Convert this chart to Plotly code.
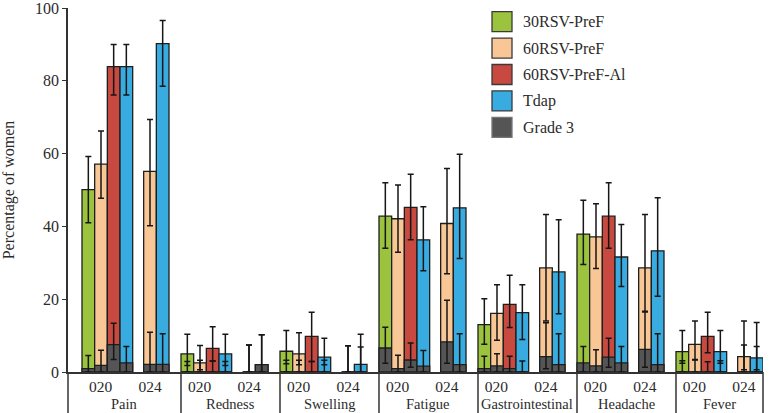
import plotly.graph_objects as go

# ---------------- data ----------------
categories = ["Pain", "Redness", "Swelling", "Fatigue", "Gastrointestinal", "Headache", "Fever"]
study_labels = ["020", "024"]
series_names = ["30RSV-PreF", "60RSV-PreF", "60RSV-PreF-Al", "Tdap"]
grade3_name = "Grade 3"

# study 020 -- 30RSV-PreF
g30_020 = [50.1, 5.0, 5.7, 42.8, 13.0, 37.9, 5.6]
g30_020_lo = [41.0, 1.8, 2.3, 34.0, 7.6, 29.5, 2.4]
g30_020_hi = [59.2, 10.4, 11.4, 52.0, 20.1, 47.2, 11.4]
g30_020_g3 = [0.9, 0.0, 0.0, 6.6, 0.9, 2.5, 0.0]
g30_020_g3_lo = [0.0, 0.0, 0.0, 2.4, 0.0, 0.0, 0.0]
g30_020_g3_hi = [4.5, 2.9, 3.2, 12.3, 4.3, 7.0, 3.1]

# study 020 -- 60RSV-PreF
g60_020 = [57.1, 2.5, 5.0, 42.1, 16.1, 37.1, 7.6]
g60_020_lo = [47.7, 0.6, 2.0, 32.9, 8.7, 28.4, 3.4]
g60_020_hi = [66.2, 7.3, 10.8, 51.4, 24.0, 46.2, 14.0]
g60_020_g3 = [1.8, 0.0, 0.0, 0.9, 1.7, 1.7, 0.0]
g60_020_g3_lo = [0.0, 0.0, 0.0, 0.0, 0.0, 0.0, 0.0]
g60_020_g3_hi = [6.0, 3.2, 3.2, 4.6, 5.0, 6.1, 3.3]

# study 020 -- 60RSV-PreF-Al
g60al_020 = [83.9, 6.5, 9.8, 45.2, 18.6, 42.8, 9.8]
g60al_020_lo = [76.1, 3.0, 2.9, 36.3, 12.2, 34.0, 5.3]
g60al_020_hi = [90.0, 12.4, 16.4, 54.3, 26.6, 52.0, 16.4]
g60al_020_g3 = [7.5, 0.0, 0.0, 3.3, 0.9, 4.1, 0.0]
g60al_020_g3_lo = [3.4, 0.0, 0.0, 1.3, 0.0, 1.3, 0.0]
g60al_020_g3_hi = [13.4, 3.0, 2.9, 8.0, 4.3, 9.3, 2.8]

# study 020 -- Tdap
tdap_020 = [83.9, 5.0, 4.1, 36.3, 16.3, 31.6, 5.6]
tdap_020_lo = [76.1, 1.8, 2.0, 27.8, 8.9, 23.5, 2.4]
tdap_020_hi = [90.0, 10.4, 9.3, 45.4, 24.0, 40.5, 11.4]
tdap_020_g3 = [2.5, 0.0, 0.0, 1.6, 0.0, 2.5, 0.0]
tdap_020_g3_lo = [0.0, 0.0, 0.0, 0.0, 0.0, 0.0, 0.0]
tdap_020_g3_hi = [7.0, 2.9, 3.2, 5.9, 3.0, 7.0, 3.1]

# study 024 -- 60RSV-PreF
g60_024 = [55.1, 0.0, 0.0, 40.8, 28.6, 28.6, 4.2]
g60_024_lo = [40.2, 0.0, 0.0, 27.0, 14.0, 16.7, 0.6]
g60_024_hi = [69.4, 7.4, 7.2, 55.9, 43.3, 43.3, 14.0]
g60_024_g3 = [2.1, 0.0, 0.0, 8.3, 4.2, 6.2, 0.0]
g60_024_g3_lo = [0.0, 0.0, 0.0, 2.4, 0.9, 1.3, 0.0]
g60_024_g3_hi = [10.9, 7.4, 7.2, 19.7, 13.5, 16.5, 7.4]

# study 024 -- Tdap
tdap_024 = [90.2, 2.0, 2.1, 45.1, 27.5, 33.3, 3.9]
tdap_024_lo = [78.5, 0.0, 0.0, 31.2, 16.0, 20.8, 0.6]
tdap_024_hi = [96.6, 10.2, 10.4, 59.8, 41.8, 47.9, 13.6]
tdap_024_g3 = [2.1, 2.0, 0.0, 2.0, 2.0, 2.0, 0.0]
tdap_024_g3_lo = [0.0, 0.0, 0.0, 0.0, 0.0, 0.0, 0.0]
tdap_024_g3_hi = [10.5, 10.2, 6.9, 10.5, 10.5, 10.5, 7.0]

y_ticks = [0, 20, 40, 60, 80, 100]
y_title = "Percentage of women"

# ---------------- styling / layout ----------------
FONT = "Liberation Serif, Times New Roman, serif"
TXT = "#2b2b2b"
COLORS = {"30RSV-PreF": "#9BC33D", "60RSV-PreF": "#F9C796",
          "60RSV-PreF-Al": "#C7493F", "Tdap": "#38ABE0", "Grade 3": "#555555"}
OUTLINE = "#1e1e1e"

W, H = 776, 413
ML, MR, MT, MB = 68, 13, 8, 41
PW, PH = W - ML - MR, H - MT - MB
Y_MAX = 100.0

GROUP = 99.0        # width of one symptom group (axis units)
BW = 12.67          # bar width
OFF024 = 61.67      # start of study-024 cluster inside a group
X_MIN, X_MAX = -14.0, 6 * GROUP + OFF024 + 2 * BW

def px_x(u):
    return (u - X_MIN) / (X_MAX - X_MIN)

# bar definitions: (series, study, values, lo, hi, g3, g3lo, g3hi, slot offset)
bars = [
    ("30RSV-PreF", "020", g30_020, g30_020_lo, g30_020_hi, g30_020_g3, g30_020_g3_lo, g30_020_g3_hi, 0.5 * BW),
    ("60RSV-PreF", "020", g60_020, g60_020_lo, g60_020_hi, g60_020_g3, g60_020_g3_lo, g60_020_g3_hi, 1.5 * BW),
    ("60RSV-PreF-Al", "020", g60al_020, g60al_020_lo, g60al_020_hi, g60al_020_g3, g60al_020_g3_lo, g60al_020_g3_hi, 2.5 * BW),
    ("Tdap", "020", tdap_020, tdap_020_lo, tdap_020_hi, tdap_020_g3, tdap_020_g3_lo, tdap_020_g3_hi, 3.5 * BW),
    ("60RSV-PreF", "024", g60_024, g60_024_lo, g60_024_hi, g60_024_g3, g60_024_g3_lo, g60_024_g3_hi, OFF024 + 0.5 * BW),
    ("Tdap", "024", tdap_024, tdap_024_lo, tdap_024_hi, tdap_024_g3, tdap_024_g3_lo, tdap_024_g3_hi, OFF024 + 1.5 * BW),
]

fig = go.Figure()
err_traces = []
for name, study, v, lo, hi, g3, g3lo, g3hi, off in bars:
    xs = [g * GROUP + off for g in range(len(categories))]
    fig.add_trace(go.Bar(x=xs, y=v, width=BW, name=f"{name} {study}",
                         marker=dict(color=COLORS[name], line=dict(color=OUTLINE, width=1.3)),
                         showlegend=False, hoverinfo="y"))
    fig.add_trace(go.Bar(x=xs, y=g3, width=BW, name=f"{grade3_name} {name} {study}",
                         marker=dict(color=COLORS["Grade 3"], line=dict(color=OUTLINE, width=1.3)),
                         showlegend=False, hoverinfo="y"))
    err_traces.append(go.Scatter(x=xs, y=v, mode="markers", marker=dict(size=1, opacity=0),
                                 showlegend=False, hoverinfo="skip",
                                 error_y=dict(type="data", symmetric=False,
                                              array=[h - a for h, a in zip(hi, v)],
                                              arrayminus=[a - l for a, l in zip(v, lo)],
                                              color="#161616", thickness=1.5, width=3)))
    err_traces.append(go.Scatter(x=xs, y=g3, mode="markers", marker=dict(size=1, opacity=0),
                                 showlegend=False, hoverinfo="skip",
                                 error_y=dict(type="data", symmetric=False,
                                              array=[h - a for h, a in zip(g3hi, g3)],
                                              arrayminus=[a - l for a, l in zip(g3, g3lo)],
                                              color="#161616", thickness=1.5, width=3)))
for t in err_traces:
    fig.add_trace(t)

# tick positions for studies
tickvals, ticktext = [], []
for g in range(len(categories)):
    tickvals += [g * GROUP + 18.5, g * GROUP + 68.0]
    ticktext += study_labels

shapes, annotations = [], []
# group separators below the axis
seps = [X_MIN] + [g * GROUP for g in range(1, len(categories))] + [X_MAX]
for s in seps:
    shapes.append(dict(type="line", xref="paper", yref="paper",
                       x0=px_x(s), x1=px_x(s), y0=0, y1=-0.2,
                       line=dict(color="#333333", width=1.5)))
# group labels
for i, cat in enumerate(categories):
    c = (seps[i] + seps[i + 1]) / 2
    annotations.append(dict(x=c, xref="x", y=-(404 - (MT + PH)) / PH, yref="paper",
                            text=cat, showarrow=False, xanchor="center", yanchor="middle",
                            font=dict(family=FONT, size=14.5, color=TXT)))

# legend (drawn as swatches + labels)
legend_items = series_names + [grade3_name]
for i, nm in enumerate(legend_items):
    cy = 21.7 + 26.4 * i
    y0 = (MT + PH - (cy - 10)) / PH
    y1 = (MT + PH - (cy + 10)) / PH
    shapes.append(dict(type="rect", xref="paper", yref="paper",
                       x0=(492 - ML) / PW, x1=(512 - ML) / PW, y0=y1, y1=y0,
                       fillcolor=COLORS[nm],
                       line=dict(color="#3a3a3a" if nm != grade3_name else "#777777", width=1.3)))
    annotations.append(dict(x=(521 - ML) / PW, xref="paper", y=(MT + PH - cy) / PH, yref="paper",
                            text=nm, showarrow=False, xanchor="left", yanchor="middle",
                            font=dict(family=FONT, size=16, color=TXT)))

fig.update_layout(
    width=W, height=H,
    margin=dict(l=ML, r=MR, t=MT, b=MB, autoexpand=False),
    barmode="overlay",
    paper_bgcolor="white", plot_bgcolor="white",
    font=dict(family=FONT, size=16, color=TXT),
    showlegend=False,
    shapes=shapes, annotations=annotations,
    xaxis=dict(range=[X_MIN, X_MAX], showgrid=False, zeroline=False, automargin=False,
               showline=True, linecolor="#333333", linewidth=1.5,
               ticks="", tickvals=tickvals, ticktext=ticktext,
               tickfont=dict(family=FONT, size=15.5, color=TXT)),
    yaxis=dict(range=[0, Y_MAX], showgrid=False, zeroline=False, automargin=False,
               showline=True, linecolor="#333333", linewidth=1.5,
               ticks="outside", ticklen=4, tickwidth=1.3, tickcolor="#333333",
               tickvals=y_ticks, ticklabeloverflow="allow",
               tickfont=dict(family=FONT, size=16, color=TXT),
               title=dict(text=y_title, font=dict(family=FONT, size=16, color=TXT), standoff=18)),
)

fig.write_html("out.html", config={"displayModeBar": False},
               post_script="document.body.style.margin='0px';document.body.style.padding='0px';")
